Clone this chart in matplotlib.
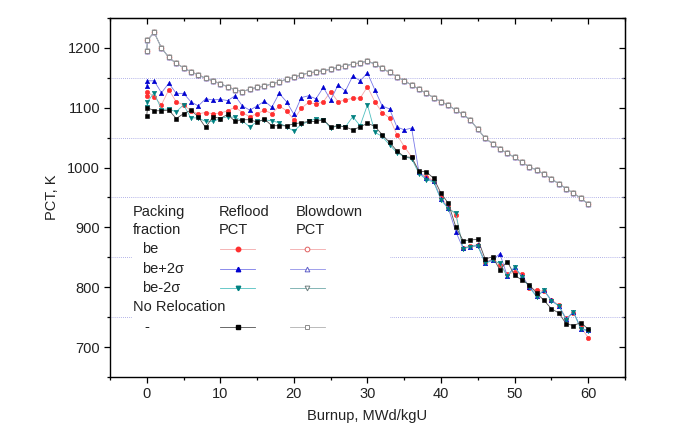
import matplotlib
matplotlib.use("Agg")
import matplotlib.pyplot as plt
from matplotlib.lines import Line2D
from matplotlib.patches import Rectangle

plt.rcParams['font.family'] = ['Liberation Sans', 'DejaVu Sans']

# ---------------- data ----------------
burnup = [0, 0.1] + list(range(1, 61))

reflood_be = [1120, 1127, 1118, 1105, 1130, 1110, 1105, 1095, 1090, 1092, 1090,
              1091, 1095, 1101, 1092, 1085, 1090, 1096, 1090, 1103, 1095,
              1080, 1099, 1109, 1106, 1110, 1127, 1110, 1113, 1116, 1116,
              1135, 1110, 1092, 1083, 1055, 1035, 1018, 992, 985, 978,
              950, 934, 921, 866, 869, 871, 842, 847, 838, 822,
              825, 822, 799, 795, 793, 779, 770, 748, 757, 733, 716]

reflood_hi = [1136, 1145, 1145, 1125, 1141, 1124, 1124, 1110, 1103, 1115, 1113,
              1114, 1112, 1120, 1103, 1096, 1103, 1111, 1101, 1124, 1110,
              1089, 1117, 1120, 1115, 1134, 1113, 1138, 1128, 1153, 1145,
              1158, 1130, 1103, 1098, 1068, 1063, 1066, 992, 982, 977,
              947, 932, 893, 865, 868, 870, 841, 846, 856, 819,
              834, 818, 801, 785, 795, 778, 769, 747, 759, 731, 728]

reflood_lo = [1102, 1110, 1125, 1097, 1098, 1093, 1105, 1083, 1083, 1077, 1077,
              1082, 1085, 1084, 1078, 1068, 1077, 1080, 1078, 1075, 1068,
              1061, 1072, 1077, 1082, 1080, 1066, 1070, 1068, 1085, 1070,
              1105, 1059, 1052, 1038, 1025, 1018, 1015, 990, 980, 976,
              946, 931, 924, 864, 868, 869, 840, 845, 840, 818,
              834, 817, 800, 784, 795, 777, 769, 746, 759, 730, 727]

reflood_norelo = [1087, 1100, 1095, 1095, 1096, 1082, 1090, 1096, 1085, 1067, 1085,
                  1082, 1089, 1077, 1080, 1080, 1076, 1081, 1070, 1070, 1070,
                  1073, 1075, 1077, 1077, 1080, 1068, 1070, 1068, 1063, 1068,
                  1074, 1069, 1055, 1042, 1028, 1018, 1017, 994, 993, 982,
                  957, 940, 901, 878, 879, 880, 847, 851, 829, 843,
                  820, 812, 804, 790, 778, 764, 757, 739, 736, 741, 730]

blowdown_norelo = [1195, 1213, 1226, 1200, 1184, 1174, 1167, 1160, 1155, 1149, 1145,
                   1140, 1135, 1130, 1127, 1131, 1134, 1136, 1140, 1143, 1148,
                   1151, 1155, 1158, 1160, 1162, 1164, 1168, 1170, 1173, 1175,
                   1178, 1173, 1166, 1159, 1152, 1145, 1138, 1131, 1124, 1117,
                   1110, 1104, 1096, 1089, 1079, 1064, 1049, 1040, 1031, 1024,
                   1017, 1009, 1001, 996, 989, 981, 973, 965, 957, 949, 939]
blowdown_be = list(blowdown_norelo)
blowdown_hi = list(blowdown_norelo)
blowdown_lo = list(blowdown_norelo)

# ---------------- figure ----------------
fig = plt.figure(figsize=(6.78, 4.44), dpi=100)
ax = fig.add_axes([0.1622, 0.1509, 0.7596, 0.8086])

ax.set_xlim(-5, 65)
ax.set_ylim(650, 1250)
ax.set_xticks(range(0, 61, 10))
ax.set_xticks(range(-5, 66, 10), minor=True)
ax.set_yticks(range(700, 1201, 100))
ax.set_yticks(range(650, 1251, 100), minor=True)
ax.tick_params(which='major', direction='out', length=4, width=0.9, labelsize=10.5, pad=3,
               labelcolor='#222222')
ax.tick_params(which='minor', direction='out', length=2.5, width=0.9)

for s in ax.spines.values():
    s.set_linewidth(1.0)

secx = ax.secondary_xaxis('top')
secx.set_xticks(range(0, 61, 10))
secx.set_xticks(range(-5, 66, 10), minor=True)
secx.tick_params(which='major', direction='in', length=4, width=0.9, labeltop=False)
secx.tick_params(which='minor', direction='in', length=2.5, width=0.9)
secy = ax.secondary_yaxis('right')
secy.set_yticks(range(700, 1201, 100))
secy.set_yticks(range(650, 1251, 100), minor=True)
secy.tick_params(which='major', direction='in', length=4, width=0.9, labelright=False)
secy.tick_params(which='minor', direction='in', length=2.5, width=0.9)

ax.set_axisbelow(True)
ax.yaxis.grid(True, which='minor', linestyle=(0, (1, 1.5)), color='#9a9ae0', linewidth=0.6)

ax.set_xlabel('Burnup, MWd/kgU', fontsize=10.5, labelpad=6, color='#222222')
ax.set_ylabel('PCT, K', fontsize=10.5, labelpad=6, color='#222222')

# legend background box
ax.add_patch(Rectangle((0.043, 0.085), 0.501, 0.405, transform=ax.transAxes,
                       facecolor='white', edgecolor='none', zorder=1))

ms_f = 3.2
ms_o = 3.4
styles = {
    'be':   dict(lc='#f4a8a8', mc='#ff3030', m='o'),
    'hi':   dict(lc='#7878e8', mc='#0000d0', m='^'),
    'lo':   dict(lc='#50c0c0', mc='#008080', m='v'),
    'nr':   dict(lc='#505050', mc='#000000', m='s'),
}
bstyles = {
    'be': dict(lc='#f4a8a8', mc='#e06060', m='o'),
    'hi': dict(lc='#9090e8', mc='#6060c8', m='^'),
    'lo': dict(lc='#70aaaa', mc='#708080', m='v'),
    'nr': dict(lc='#b0b0b0', mc='#8c8c8c', m='s'),
}

# blowdown curves
for key, data in [('be', blowdown_be), ('hi', blowdown_hi), ('lo', blowdown_lo), ('nr', blowdown_norelo)]:
    st = bstyles[key]
    ax.plot(burnup, data, color=st['lc'], lw=0.6, marker=st['m'], ms=ms_o,
            mfc='white', mec=st['mc'], mew=0.7, zorder=2)

# reflood curves
for key, data in [('be', reflood_be), ('hi', reflood_hi), ('lo', reflood_lo), ('nr', reflood_norelo)]:
    st = styles[key]
    ax.plot(burnup, data, color=st['lc'], lw=0.6, marker=st['m'], ms=ms_f,
            mfc=st['mc'], mec=st['mc'], mew=0.4, zorder=3)

# custom table legend
fs = 10.5
def t(x, y, s):
    ax.text(x, y, s, transform=ax.transAxes, fontsize=fs, ha='left', va='center', zorder=5,
            color='#222222')

t(0.045, 0.460, 'Packing')
t(0.045, 0.410, 'fraction')
t(0.212, 0.460, 'Reflood')
t(0.212, 0.410, 'PCT')
t(0.360, 0.460, 'Blowdown')
t(0.360, 0.410, 'PCT')
rows = [('be', 0.357, 'be'), ('hi', 0.302, 'be+2\u03c3'), ('lo', 0.247, 'be-2\u03c3')]
for key, y, label in rows:
    t(0.062, y, label)
t(0.045, 0.195, 'No Relocation')
t(0.066, 0.139, '-')
for key, y in [('be', 0.357), ('hi', 0.302), ('lo', 0.247), ('nr', 0.139)]:
    st = styles[key]
    ax.add_line(Line2D([0.2136, 0.2816], [y, y], transform=ax.transAxes, color=st['lc'], lw=0.6, zorder=5))
    ax.add_line(Line2D([0.2485], [y], transform=ax.transAxes, marker=st['m'], ms=ms_f,
                       mfc=st['mc'], mec=st['mc'], lw=0, zorder=6))
    bs = bstyles[key]
    ax.add_line(Line2D([0.3495, 0.4175], [y, y], transform=ax.transAxes, color=bs['lc'], lw=0.6, zorder=5))
    ax.add_line(Line2D([0.3835], [y], transform=ax.transAxes, marker=bs['m'], ms=ms_o,
                       mfc='white', mec=bs['mc'], mew=0.7, lw=0, zorder=6))

fig.savefig('out.png', dpi=100)
